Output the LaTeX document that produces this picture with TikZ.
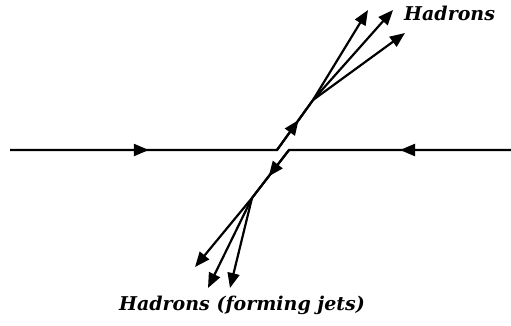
\documentclass[tikz,border=0pt]{standalone}
\usepackage{fontspec}
\setmainfont{DejaVu Serif}
\usetikzlibrary{arrows.meta,decorations.markings}
\begin{document}
\begin{tikzpicture}[x=1pt,y=1pt,
  ln/.style={line width=2.2pt,line cap=butt,line join=miter},
  tipped/.style={ln,-{Triangle[length=15pt,width=12pt]}},
  midarrow/.style={ln,postaction={decorate},decoration={markings,mark=at position #1 with {\arrow{Triangle[length=15pt,width=12pt]}}}},
  lbl/.style={font=\fontsize{19}{22}\selectfont\bfseries\itshape,inner sep=0pt}]
\useasboundingbox (0,0) rectangle (511,325);
\coordinate (L) at (10,175);
\coordinate (B1) at (277,175);
\coordinate (V1) at (313,225);
\coordinate (H1) at (368,315);
\coordinate (H2) at (393,315);
\coordinate (H3) at (405,292);
\coordinate (R) at (511,175);
\coordinate (B2) at (289,175);
\coordinate (V2) at (252,127);
\coordinate (J1) at (195,58);
\coordinate (J2) at (208,37);
\coordinate (J3) at (230,37);
\draw[midarrow=0.52] (L) -- (B1);
\draw[midarrow=0.6] (B1) -- (V1);
\draw[ln] (L) -- (B1) -- (V1);
\draw[midarrow=0.5] (R) -- (B2);
\draw[midarrow=0.55] (B2) -- (V2);
\draw[ln] (R) -- (B2) -- (V2);
\draw[tipped] (V1) -- (H1);
\draw[tipped] (V1) -- (H2);
\draw[tipped] (V1) -- (H3);
\draw[tipped] (V2) -- (J1);
\draw[tipped] (V2) -- (J2);
\draw[tipped] (V2) -- (J3);
\node[lbl,anchor=west] (ht) at (404,312) {Hadrons};
\node[lbl] (hb) at (242,20) {Hadrons (forming jets)};
\end{tikzpicture}
\end{document}
